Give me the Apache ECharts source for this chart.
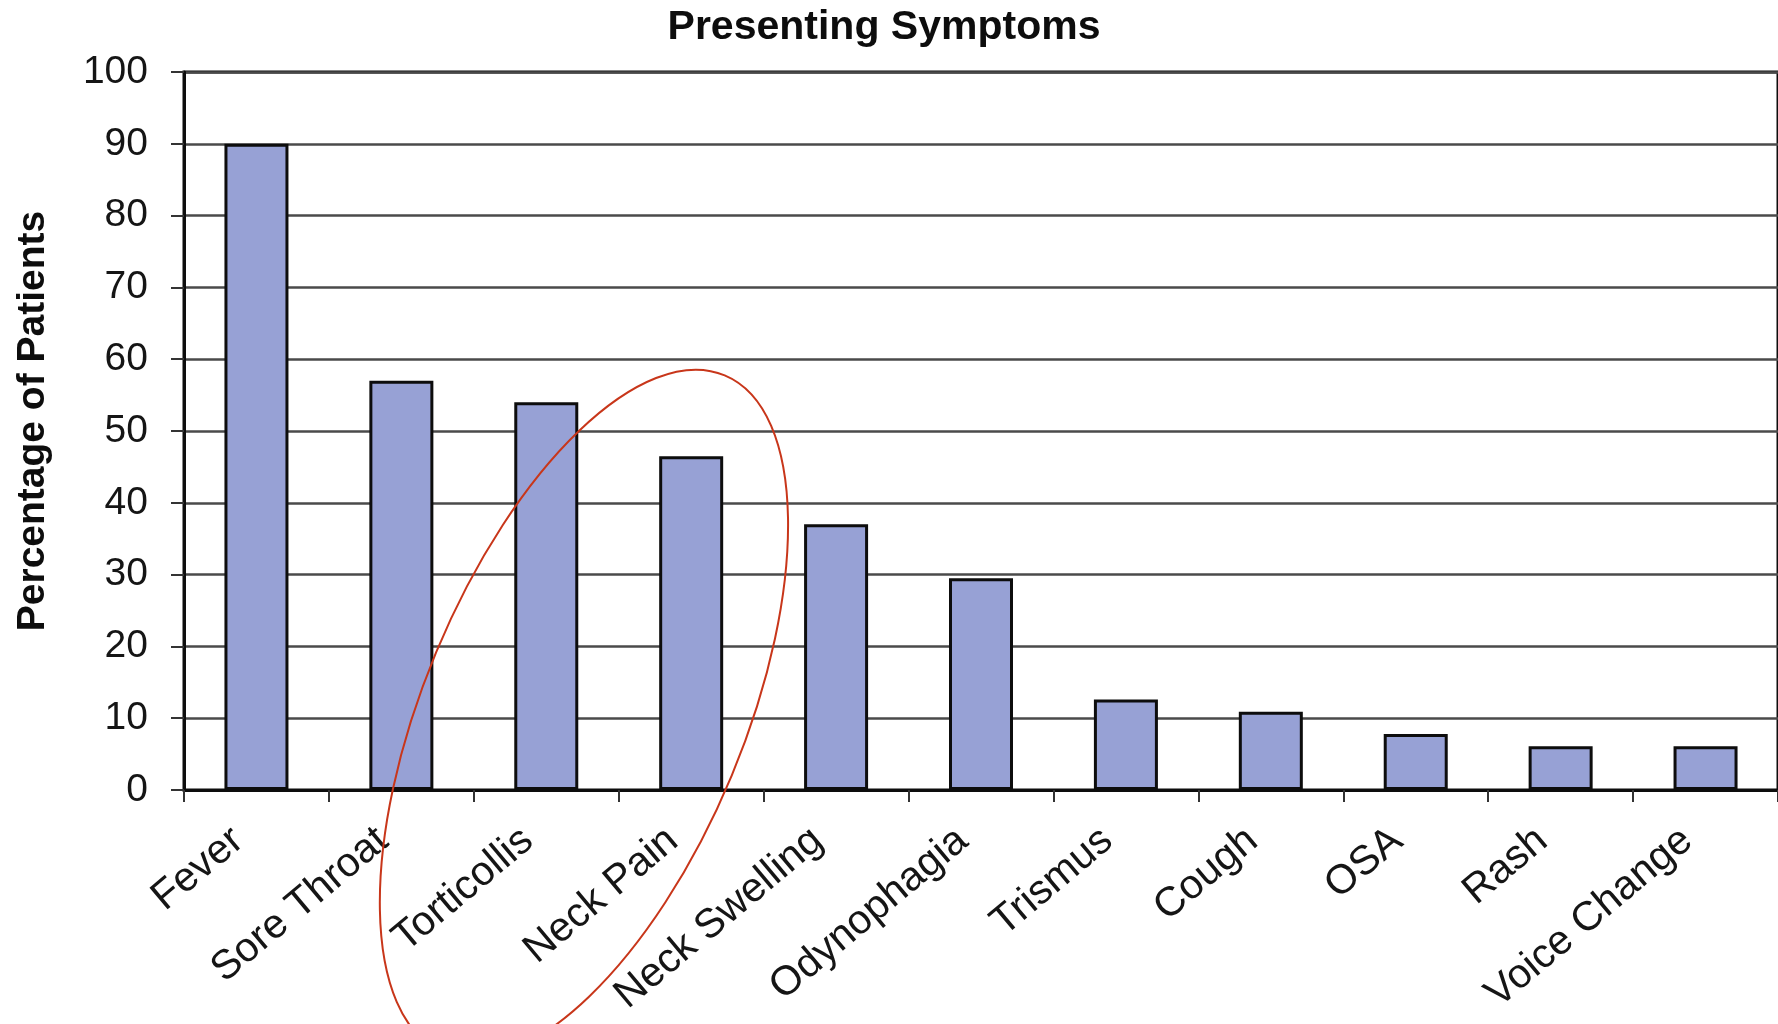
<!DOCTYPE html>
<html>
<head>
<meta charset="utf-8">
<script src="https://cdn.jsdelivr.net/npm/echarts@6/dist/echarts.min.js"></script>
<style>
html,body{margin:0;padding:0;background:#fff;}
#chart{width:1778px;height:1024px;}
</style>
</head>
<body>
<div id="chart"></div>
<script>
const titleText = 'Presenting Symptoms';
const yAxisName = 'Percentage of Patients';
const categories = ['Fever', 'Sore Throat', 'Torticollis', 'Neck Pain', 'Neck Swelling', 'Odynophagia', 'Trismus', 'Cough', 'OSA', 'Rash', 'Voice Change'];
const values = [90, 57, 54, 46.5, 37, 29.5, 12.6, 10.9, 7.8, 6.1, 6.1];
const yMin = 0, yMax = 100, yInterval = 10;

const FONT = '"Liberation Sans", Arial, Helvetica, sans-serif';

const chart = echarts.init(document.getElementById('chart'), null, {renderer: 'canvas'});
const option = {
  backgroundColor: '#ffffff',
  animation: false,
  title: {
    text: titleText,
    left: 879,
    top: 2,
    textAlign: 'center',
    textStyle: {fontFamily: FONT, fontWeight: 'bold', fontSize: 41, color: '#0d0d0d'}
  },
  grid: {
    left: 184, right: -18, top: 72, bottom: 234,
    show: true, borderColor: '#0d0d0d', borderWidth: 3, backgroundColor: 'transparent'
  },
  xAxis: {
    type: 'category',
    data: categories,
    boundaryGap: true,
    axisLine: {show: true, lineStyle: {color: '#0d0d0d', width: 3}},
    axisTick: {show: true, length: 12, lineStyle: {color: '#333', width: 2}},
    axisLabel: {
      interval: 0, rotate: 40, margin: 30,
      padding: [0, 24, 0, 0],
      fontFamily: FONT, fontSize: 41, color: '#151515'
    },
    splitLine: {show: false}
  },
  yAxis: {
    type: 'value',
    min: yMin, max: yMax, interval: yInterval,
    name: yAxisName,
    nameLocation: 'middle',
    nameGap: 131,
    nameTextStyle: {fontFamily: FONT, fontWeight: 'bold', fontSize: 39, color: '#0d0d0d', padding: [0, 0, 0, 20]},
    axisLine: {show: true, lineStyle: {color: '#0d0d0d', width: 3}},
    axisTick: {show: true, length: 13, lineStyle: {color: '#333', width: 2}},
    axisLabel: {margin: 36, fontFamily: FONT, fontSize: 39, color: '#151515'},
    splitLine: {show: true, lineStyle: {color: '#4a4a4a', width: 2.5}}
  },
  series: [{
    type: 'bar',
    data: values,
    barWidth: 64,
    itemStyle: {color: '#97a1d5', borderColor: '#0d0d0d', borderWidth: 3}
  }]
};
chart.setOption(option);

// Hand-drawn red ellipse annotation around Torticollis / Neck Pain
const ellipseCat = 2;          // anchored at Torticollis
const ellipseCatFrac = 0.26;   // fraction of a category step to the right
const ellipseValue = 10.6;     // vertical centre in data units
const ellipseRxSteps = 1.105;  // semi-minor axis in category steps
const ellipseRySteps = 2.53;   // semi-major axis in category steps
const ellipseRotation = -0.394; // radians

const pA = chart.convertToPixel({gridIndex: 0}, [ellipseCat, ellipseValue]);
const pB = chart.convertToPixel({gridIndex: 0}, [ellipseCat + 1, ellipseValue]);
const step = pB[0] - pA[0];
chart.setOption({
  graphic: [{
    type: 'ellipse',
    x: pA[0] + ellipseCatFrac * step,
    y: pA[1],
    rotation: ellipseRotation,
    shape: {cx: 0, cy: 0, rx: ellipseRxSteps * step, ry: ellipseRySteps * step},
    style: {fill: 'none', stroke: '#c8361a', lineWidth: 2},
    z: 100
  }]
});
</script>
</body>
</html>
